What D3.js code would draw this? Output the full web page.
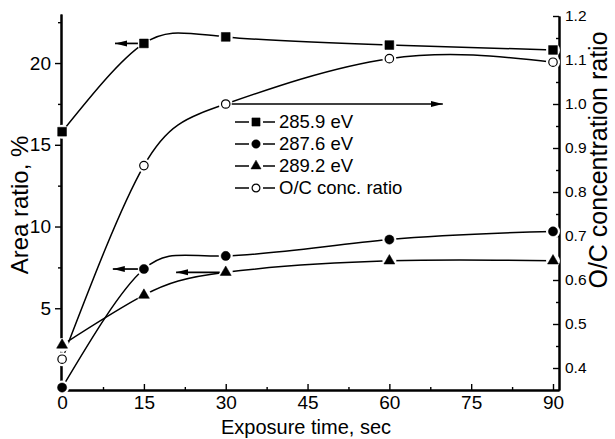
<!DOCTYPE html>
<html>
<head>
<meta charset="utf-8">
<script src="https://cdn.jsdelivr.net/npm/d3@7"></script>
<style>
    body { margin: 0; background: #fff; }
    svg { font-family: "Liberation Sans", Arial, sans-serif; }
    .axis path, .axis line { stroke: #000; }
    .axis text { fill: #000; }
</style>
</head>
<body>
<svg id="chart" width="615" height="439"></svg>
<script>
    "use strict";

    // exposure times (sec)
    var times = [0, 15, 30, 60, 90]
    // area ratio (%) of the C1s components
    var area2859 = [15.8, 21.2, 21.6, 21.1, 20.8]
    var area2876 = [0.15, 7.4, 8.2, 9.2, 9.7]
    var area2892 = [2.75, 5.8, 7.2, 7.9, 7.9]
    // O/C concentration ratio (right axis)
    var ocRatio = [0.42, 0.86, 1.0, 1.103, 1.095]

    var seriesNames = ["285.9 eV", "287.6 eV", "289.2 eV", "O/C conc. ratio"]
    var leftTicks = [5, 10, 15, 20]
    var rightTicks = [0.4, 0.5, 0.6, 0.7, 0.8, 0.9, 1.0, 1.1, 1.2]
    var xTicks = [0, 15, 30, 45, 60, 75, 90]

    // arrows telling which axis a curve belongs to (data units)
    var arrowNotes = [
        { axis: "left", y: 21.2, from: 15, to: 9.7 },
        { axis: "left", y: 7.4, from: 15, to: 9.3 },
        { axis: "left", y: 7.2, from: 30, to: 20.9 },
        { axis: "right", y: 1.0, from: 30, to: 69.8 }
    ]

    var svg = d3.select("#chart")

    var x = d3.scaleLinear().domain([-0.2, 91.1]).range([61, 559])
    var yL = d3.scaleLinear().domain([0, 23]).range([390, 14])
    var yR = d3.scaleLinear().domain([0.35, 1.2]).range([390, 16])

    var series = [
        { name: seriesNames[0], values: area2859, scale: yL, symbol: d3.symbolSquare, size: 78, open: false },
        { name: seriesNames[1], values: area2876, scale: yL, symbol: d3.symbolCircle, size: 66, open: false },
        { name: seriesNames[2], values: area2892, scale: yL, symbol: d3.symbolTriangle, size: 52, open: false },
        { name: seriesNames[3], values: ocRatio, scale: yR, symbol: d3.symbolCircle, size: 56, open: true }
    ]

    // ---- axes
    var minor = function(lo, hi, step) {
        return d3.range(lo, hi + 1e-9, step)
    }

    var gx = svg.append("g").attr("class", "axis")
        .attr("transform", "translate(0,390)")
        .call(d3.axisBottom(x).tickValues(xTicks).tickSize(-6).tickPadding(6)
            .tickSizeOuter(0))
    gx.selectAll("text").style("font-size", "19px")
    svg.append("g").attr("class", "axis")
        .attr("transform", "translate(0,390)")
        .call(d3.axisBottom(x).tickValues(minor(7.5, 90, 15)).tickSize(-3)
            .tickFormat("").tickSizeOuter(0))

    var gl = svg.append("g").attr("class", "axis")
        .attr("transform", "translate(61,0)")
        .call(d3.axisLeft(yL).tickValues(leftTicks).tickSize(6).tickPadding(4)
            .tickSizeOuter(0))
    gl.selectAll("text").style("font-size", "19px")
    svg.append("g").attr("class", "axis")
        .attr("transform", "translate(61,0)")
        .call(d3.axisLeft(yL).tickValues(minor(2.5, 23, 5)).tickSize(3)
            .tickFormat("").tickSizeOuter(0))

    var gr = svg.append("g").attr("class", "axis")
        .attr("transform", "translate(559,0)")
        .call(d3.axisRight(yR).tickValues(rightTicks).tickSize(-6).tickPadding(6)
            .tickFormat(d3.format(".1f")).tickSizeOuter(0))
    gr.selectAll("text").style("font-size", "15.5px")
    svg.append("g").attr("class", "axis")
        .attr("transform", "translate(559,0)")
        .call(d3.axisRight(yR).tickValues(minor(0.45, 1.2, 0.1)).tickSize(-3)
            .tickFormat("").tickSizeOuter(0))

    svg.selectAll(".axis path.domain").attr("stroke-width", 2)
    svg.selectAll(".axis .tick line").attr("stroke-width", 1.4)

    // axis titles
    svg.append("text")
        .attr("x", 306).attr("y", 434)
        .attr("text-anchor", "middle")
        .style("font-size", "20px")
        .text("Exposure time, sec")
    svg.append("text")
        .attr("transform", "translate(28,205) rotate(-90)")
        .attr("text-anchor", "middle")
        .style("font-size", "24px")
        .text("Area ratio, %")
    svg.append("text")
        .attr("transform", "translate(607,160) rotate(-90)")
        .attr("text-anchor", "middle")
        .style("font-size", "25px")
        .text("O/C concentration ratio")

    // ---- curves
    var plot = svg.append("g")
    series.forEach(function(s) {
        var line = d3.line()
            .x(function(d, i) { return x(times[i]) })
            .y(function(d) { return s.scale(d) })
            .curve(d3.curveNatural)
        plot.append("path")
            .datum(s.values)
            .attr("d", line)
            .attr("fill", "none")
            .attr("stroke", "#000")
            .attr("stroke-width", 1.5)
    })
    // Origin style gaps where curves meet the symbols
    series.forEach(function(s) {
        plot.selectAll(null).data(s.values).enter().append("circle")
            .attr("cx", function(d, i) { return x(times[i]) })
            .attr("cy", function(d) { return s.scale(d) })
            .attr("r", 7)
            .attr("fill", "#fff")
    })

    // ---- arrows
    var defs = svg.append("defs")
    defs.append("marker")
        .attr("id", "head")
        .attr("markerUnits", "userSpaceOnUse")
        .attr("viewBox", "0 -4 12 8")
        .attr("refX", 12).attr("refY", 0)
        .attr("markerWidth", 12).attr("markerHeight", 8)
        .attr("orient", "auto")
        .append("path")
        .attr("d", "M0,-3L12,0L0,3Z")
        .attr("fill", "#000")

    arrowNotes.forEach(function(a) {
        var sc = a.axis === "left" ? yL : yR
        var dir = a.to > a.from ? 1 : -1
        plot.append("line")
            .attr("x1", x(a.from) + dir * 6)
            .attr("x2", x(a.to))
            .attr("y1", sc(a.y))
            .attr("y2", sc(a.y))
            .attr("stroke", "#000")
            .attr("stroke-width", 1.7)
            .attr("marker-end", "url(#head)")
    })

    // ---- symbols
    var drawSymbol = function(g, s, cx, cy, scale) {
        g.append("path")
            .attr("d", d3.symbol().type(s.symbol).size(s.size * (scale || 1))())
            .attr("transform", "translate(" + cx + "," + cy + ")")
            .attr("fill", s.open ? "#fff" : "#000")
            .attr("stroke", "#000")
            .attr("stroke-width", s.open ? 1.2 : 0.5)
    }
    series.forEach(function(s) {
        s.values.forEach(function(v, i) {
            drawSymbol(plot, s, x(times[i]), s.scale(v))
        })
    })

    // ---- legend
    var legend = svg.append("g").attr("transform", "translate(235,122)")
    series.forEach(function(s, i) {
        var row = legend.append("g").attr("transform", "translate(0," + i * 22 + ")")
        row.append("line").attr("x1", 0).attr("x2", 14)
            .attr("stroke", "#000").attr("stroke-width", 1.5)
        row.append("line").attr("x1", 28).attr("x2", 40)
            .attr("stroke", "#000").attr("stroke-width", 1.5)
        drawSymbol(row, s, 21, 0, 0.85)
        row.append("text")
            .attr("x", 44).attr("y", 0)
            .attr("dy", "0.35em")
            .style("font-size", "18.5px")
            .text(s.name)
    })
</script>
</body>
</html>
